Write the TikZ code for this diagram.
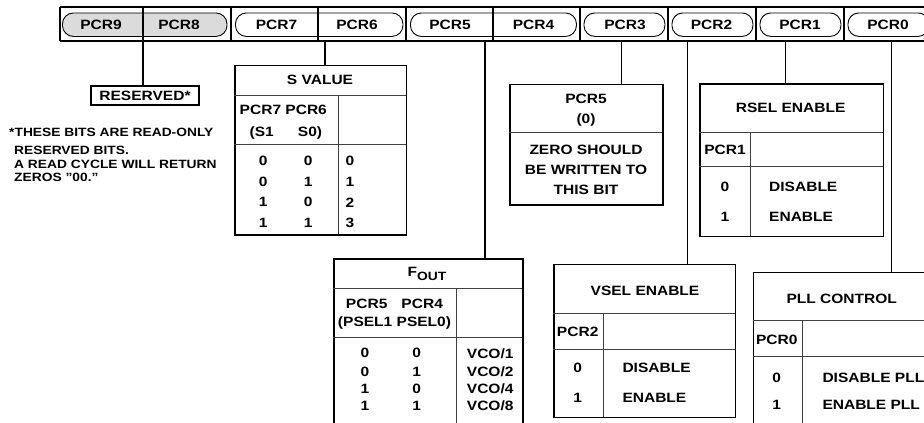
\documentclass[tikz,border=0pt]{standalone}
\usepackage{fontspec}
\setmainfont{Liberation Sans}[FakeStretch=1.15]
\usetikzlibrary{positioning, calc}

\begin{document}
\begin{tikzpicture}[x=1pt, y=-1pt,
    lbl/.style={font=\fontsize{13.5}{16}\selectfont\bfseries, inner sep=0pt},
    lines/.style={font=\fontsize{13.5}{20}\selectfont\bfseries, inner sep=0pt, align=center},
    note/.style={font=\fontsize{12}{13.6}\selectfont\bfseries, inner sep=0pt,
                 align=left, anchor=west},
    capsule/.style={draw, line width=0.9pt, rounded corners=11pt, anchor=north west,
                    minimum height=23.5, inner sep=0pt},
    tbl/.style={draw, line width=1.3pt, anchor=north west, inner sep=0pt},
    rule/.style={line width=0.8pt, draw=black!75},
    wire/.style={line width=1.3pt},
]
\clip (0,0) rectangle (924,423);

% Register bar
\node[capsule, fill=black!14, minimum width=164.5] (c98) at (62,12.5) {};
\node[capsule, minimum width=167.5] (c76) at (235,12.5) {};
\node[capsule, minimum width=166] (c54) at (410,12.5) {};
\node[capsule, minimum width=81] (c3) at (583.5,12.5) {};
\node[capsule, minimum width=81] (c2) at (671.5,12.5) {};
\node[capsule, minimum width=81] (c1) at (759.5,12.5) {};
\node[capsule, minimum width=81] (c0) at (847.5,12.5) {};
\draw[line width=2pt] (60,7) -- (940,7);
\draw[line width=2pt] (60,41) -- (940,41);
\draw[wire] (60,7) -- (60,41);
\draw[wire] (143,7) -- (143,41);
\draw[wire] (231,7) -- (231,41);
\draw[wire] (318,7) -- (318,41);
\draw[wire] (406,7) -- (406,41);
\draw[wire] (493,7) -- (493,41);
\draw[wire] (580,7) -- (580,41);
\draw[wire] (668,7) -- (668,41);
\draw[wire] (756,7) -- (756,41);
\draw[wire] (844,7) -- (844,41);

\node[lbl] (t9) at (101,24.5) {PCR9};
\node[lbl] (t8) at (179,24.5) {PCR8};
\node[lbl] (t7) at (276.5,24.5) {PCR7};
\node[lbl] (t6) at (357,24.5) {PCR6};
\node[lbl] (t5) at (450,24.5) {PCR5};
\node[lbl] (t4) at (533.5,24.5) {PCR4};
\node[lbl] (t3) at (625,24.5) {PCR3};
\node[lbl] (t2) at (711.5,24.5) {PCR2};
\node[lbl] (t1) at (800,24.5) {PCR1};
\node[lbl] (t0) at (888,24.5) {PCR0};

% Reserved bits
\node[lbl, draw, line width=1.3pt, minimum width=108, minimum height=19] (res) at (145,95.5) {RESERVED*};
\node[note] (note1) at (9,132.8) {*THESE BITS ARE READ-ONLY};
\node[note] (note2) at (14,164.2) {RESERVED BITS.\\A READ CYCLE WILL RETURN\\ZEROS "00."};

% S value table
\node[tbl, minimum width=171.7, minimum height=169.3] (sval) at (234.3,65) {};
\draw[rule] (234.3,95) -- (406,95);
\draw[rule] (234.3,144.3) -- (406,144.3);
\draw[rule] (338.3,95) -- (338.3,234.3);
\node[lbl] (svt) at (320,80) {S VALUE};
\node[lbl] (svh) at (283.3,110) {PCR7 PCR6};
\node[lbl] (svs1) at (261.7,133.3) {(S1};
\node[lbl] (svs0) at (310,133.3) {S0)};
\node[lbl] (sv0a) at (263.3,161) {0};
\node[lbl] (sv0b) at (308.3,161) {0};
\node[lbl] (sv0c) at (350,161) {0};
\node[lbl] (sv1a) at (263.3,181.7) {0};
\node[lbl] (sv1b) at (308.3,181.7) {1};
\node[lbl] (sv1c) at (350,181.7) {1};
\node[lbl] (sv2a) at (263.3,202.3) {1};
\node[lbl] (sv2b) at (308.3,202.3) {0};
\node[lbl] (sv2c) at (350,202.3) {2};
\node[lbl] (sv3a) at (263.3,223) {1};
\node[lbl] (sv3b) at (308.3,223) {1};
\node[lbl] (sv3c) at (350,223) {3};

% Fout table
\node[tbl, minimum width=189, minimum height=200] (fout) at (333.3,258.3) {};
\draw[rule] (333.3,288.3) -- (522.3,288.3);
\draw[rule] (333.3,337.7) -- (522.3,337.7);
\draw[rule] (456.7,288.3) -- (456.7,430);
\node[lbl] (fot) at (427,274) {F\raisebox{-4.4pt}{\fontsize{12}{14}\selectfont OUT}};
\node[lbl] (fo5) at (366.7,304.3) {PCR5};
\node[lbl] (fo4) at (422.2,304.3) {PCR4};
\node[lbl] (fops) at (394.5,323.3) {(PSEL1 PSEL0)};
\node[lbl] (fo0a) at (365,353.3) {0};
\node[lbl] (fo0b) at (416.7,353.3) {0};
\node[lbl, anchor=west] (fo0c) at (466.7,353.3) {VCO/1};
\node[lbl] (fo1a) at (365,371.7) {0};
\node[lbl] (fo1b) at (416.7,371.7) {1};
\node[lbl, anchor=west] (fo1c) at (466.7,371.7) {VCO/2};
\node[lbl] (fo2a) at (365,389) {1};
\node[lbl] (fo2b) at (416.7,389) {0};
\node[lbl, anchor=west] (fo2c) at (466.7,389) {VCO/4};
\node[lbl] (fo3a) at (365,405.7) {1};
\node[lbl] (fo3b) at (416.7,405.7) {1};
\node[lbl, anchor=west] (fo3c) at (466.7,405.7) {VCO/8};

% PCR5 (0) box
\node[tbl, minimum width=153, minimum height=120.3] (zero) at (509.3,84) {};
\draw[rule] (509.3,132.3) -- (662.3,132.3);
\node[lines] (zt) at (586,109.7) {PCR5\\(0)};
\node[lines] (zb) at (586,169.7) {ZERO SHOULD\\BE WRITTEN TO\\THIS BIT};

% VSEL table
\node[tbl, minimum width=181.7, minimum height=152.7] (vsel) at (553.3,264) {};
\draw[rule] (553.3,313.3) -- (735,313.3);
\draw[rule] (553.3,349) -- (735,349);
\draw[rule] (603.3,313.3) -- (603.3,416.7);
\node[lbl] (vst) at (645,290.7) {VSEL ENABLE};
\node[lbl] (vsh) at (577.7,331.7) {PCR2};
\node[lbl] (vs0a) at (577.7,368.3) {0};
\node[lbl, anchor=west] (vs0b) at (622.3,368.3) {DISABLE};
\node[lbl] (vs1a) at (577.7,397.7) {1};
\node[lbl, anchor=west] (vs1b) at (622.3,397.7) {ENABLE};

% RSEL table
\node[tbl, minimum width=183.4, minimum height=152.7] (rsel) at (699.3,83.3) {};
\draw[rule] (699.3,132.3) -- (882.7,132.3);
\draw[rule] (699.3,166.7) -- (882.7,166.7);
\draw[rule] (750,132.3) -- (750,236);
\node[lbl] (rst) at (790.7,108.3) {RSEL ENABLE};
\node[lbl] (rsh) at (725,150) {PCR1};
\node[lbl] (rs0a) at (725,187.3) {0};
\node[lbl, anchor=west] (rs0b) at (769,187.3) {DISABLE};
\node[lbl] (rs1a) at (725,216.7) {1};
\node[lbl, anchor=west] (rs1b) at (769,216.7) {ENABLE};

% PLL table
\node[tbl, minimum width=180, minimum height=200] (pll) at (752.7,271.7) {};
\draw[rule] (752.7,320.7) -- (932.7,320.7);
\draw[rule] (752.7,356) -- (932.7,356);
\draw[rule] (802.3,320.7) -- (802.3,430);
\node[lbl] (plt) at (841.7,299.3) {PLL CONTROL};
\node[lbl] (plh) at (776.7,340) {PCR0};
\node[lbl] (pl0a) at (776.7,377.7) {0};
\node[lbl, anchor=west] (pl0b) at (822.3,377.7) {DISABLE PLL};
\node[lbl] (pl1a) at (776.7,405) {1};
\node[lbl, anchor=west] (pl1b) at (822.3,405) {ENABLE PLL};

% Bit taps
\coordinate (b98) at (143,41);
\coordinate (b6) at (325,41);
\coordinate (b5) at (485,41);
\coordinate (b3) at (621.7,41);
\coordinate (b2) at (687.5,41);
\coordinate (b1) at (785.7,41);
\coordinate (b0) at (891.5,41);
\draw[wire] (b98) -- (b98 |- res.north);
\draw[wire] (b6) -- (b6 |- sval.north);
\draw[wire] (b5) -- (b5 |- fout.north);
\draw[wire] (b3) -- (b3 |- zero.north);
\draw[wire] (b2) -- (b2 |- vsel.north);
\draw[wire] (b1) -- (b1 |- rsel.north);
\draw[wire] (b0) -- (b0 |- pll.north);
\end{tikzpicture}
\end{document}
